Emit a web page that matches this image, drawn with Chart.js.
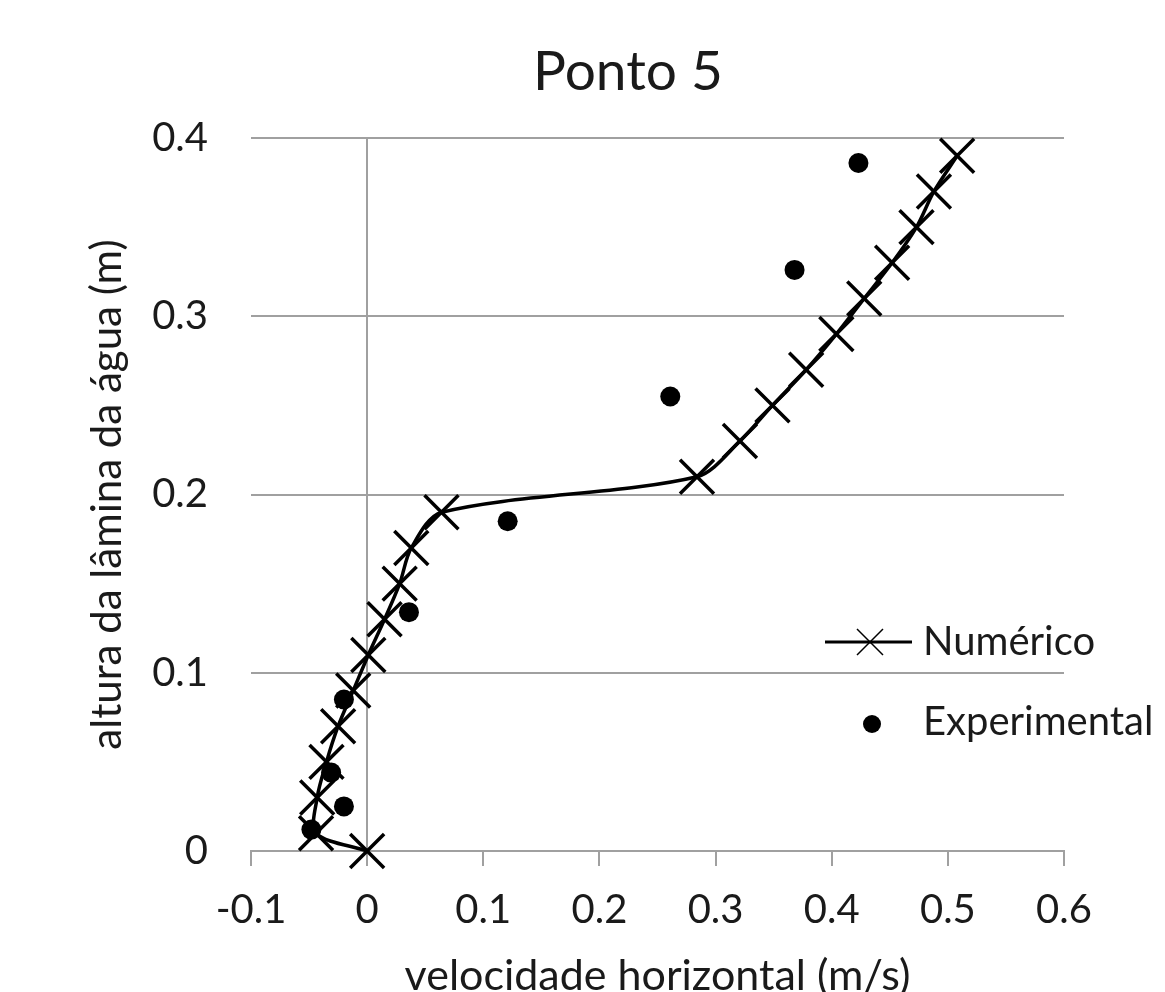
<!DOCTYPE html>
<html>
<head>
<meta charset="utf-8">
<script src="https://cdn.jsdelivr.net/npm/chart.js@4/dist/chart.umd.min.js"></script>
<style>
  html, body { margin: 0; padding: 0; background: #ffffff; }
  #wrap { width: 1165px; height: 992px; position: relative; }
</style>
</head>
<body>
<div id="wrap"><canvas id="c"></canvas></div>
<script>
// ---- data ----
const chartTitle = 'Ponto 5';
const xAxisTitle = 'velocidade horizontal (m/s)';
const yAxisTitle = 'altura da lâmina da água (m)';
const seriesNames = ['Numérico', 'Experimental'];

const numericoX = [0, -0.044, -0.043, -0.035, -0.025, -0.012, 0.001, 0.015, 0.028, 0.038, 0.064,
                   0.284, 0.321, 0.349, 0.378, 0.404, 0.428, 0.452, 0.473, 0.488, 0.508];
const numericoY = [0, 0.01, 0.03, 0.05, 0.07, 0.09, 0.11, 0.13, 0.15, 0.17, 0.19,
                   0.21, 0.23, 0.25, 0.27, 0.29, 0.31, 0.33, 0.35, 0.37, 0.39];

const experimentalX = [-0.048, -0.020, -0.031, -0.020, 0.036, 0.121, 0.261, 0.368, 0.423];
const experimentalY = [0.012, 0.025, 0.044, 0.085, 0.134, 0.185, 0.255, 0.326, 0.386];

const xTicks = [-0.1, 0, 0.1, 0.2, 0.3, 0.4, 0.5, 0.6];
const yTicks = [0, 0.1, 0.2, 0.3, 0.4];

// ---- build ----
const toPts = (xs, ys) => xs.map((x, i) => ({ x: x, y: ys[i] }));
const FONT = 'Lato';
const TXT = '#1a1a1a';
const GRID = '#a0a0a0';
const fmt = v => String(Math.round(v * 10) / 10);

// widen the y scale box back to the canvas edge after layout (so its labels are not clipped)
const yBoxPlugin = {
  id: 'yBox',
  afterLayout(chart) {
    const y = chart.scales.y;
    y.left = 0;
    y.width = y.right - y.left;
  }
};

const legendPlugin = {
  id: 'manualLegend',
  afterDraw(chart) {
    const ctx = chart.ctx;
    ctx.save();
    const y1 = 642, y2 = 724;
    ctx.strokeStyle = '#000';
    ctx.lineWidth = 3;
    ctx.beginPath();
    ctx.moveTo(825, y1); ctx.lineTo(912, y1);
    ctx.stroke();
    ctx.lineWidth = 1.5;
    const cx = 870, h = 13;
    ctx.beginPath();
    ctx.moveTo(cx - h, y1 - h); ctx.lineTo(cx + h, y1 + h);
    ctx.moveTo(cx + h, y1 - h); ctx.lineTo(cx - h, y1 + h);
    ctx.stroke();
    ctx.fillStyle = '#000';
    ctx.beginPath();
    ctx.arc(872, y2, 9, 0, Math.PI * 2);
    ctx.fill();
    ctx.fillStyle = TXT;
    ctx.font = '40px ' + FONT;
    ctx.textBaseline = 'middle';
    ctx.textAlign = 'left';
    ctx.fillText(seriesNames[0], 923, y1);
    ctx.fillText(seriesNames[1], 923, y2 - 2);
    ctx.restore();
  }
};

new Chart(document.getElementById('c'), {
  type: 'scatter',
  data: {
    datasets: [
      {
        label: seriesNames[1],
        data: toPts(experimentalX, experimentalY),
        showLine: false,
        pointStyle: 'circle',
        pointRadius: 10,
        pointBackgroundColor: '#000',
        pointBorderWidth: 0,
        clip: false,
        order: 0
      },
      {
        label: seriesNames[0],
        data: toPts(numericoX, numericoY),
        showLine: true,
        borderColor: '#000',
        borderWidth: 3.5,
        tension: 0.3,
        pointStyle: 'crossRot',
        pointRadius: 24,
        pointBorderWidth: 3.5,
        pointBorderColor: '#000',
        pointBackgroundColor: 'rgba(0,0,0,0)',
        clip: false,
        order: 1
      }
    ]
  },
  options: {
    responsive: true,
    maintainAspectRatio: false,
    animation: false,
    events: [],
    layout: { padding: { left: 192, right: 101, top: 0, bottom: 0 } },
    plugins: {
      legend: { display: false },
      tooltip: { enabled: false },
      title: {
        display: true,
        text: chartTitle,
        color: TXT,
        font: { family: FONT, size: 55, weight: 'normal', lineHeight: 1.2 },
        padding: { top: 39, bottom: 33 }
      }
    },
    scales: {
      x: {
        type: 'linear',
        min: -0.1,
        max: 0.6,
        afterBuildTicks: s => { s.ticks = xTicks.map(v => ({ value: v })); },
        afterFit: s => { s.height = 141; },
        ticks: {
          color: TXT,
          font: { family: FONT, size: 40 },
          padding: 20,
          maxRotation: 0,
          autoSkip: false,
          callback: v => fmt(v)
        },
        grid: {
          color: c => (c.tick && Math.abs(c.tick.value) < 1e-9) ? GRID : 'rgba(0,0,0,0)',
          tickColor: GRID,
          lineWidth: 2,
          drawTicks: true,
          tickLength: 15
        },
        border: { display: true, color: GRID, width: 2 },
        title: {
          display: true,
          text: xAxisTitle,
          color: TXT,
          font: { family: FONT, size: 43, lineHeight: 1.2 },
          padding: { top: 0, bottom: -10 }
        }
      },
      y: {
        type: 'linear',
        min: 0,
        max: 0.4,
        afterBuildTicks: s => { s.ticks = yTicks.map(v => ({ value: v })); },
        afterFit: s => { s.width = 59; },
        ticks: {
          color: TXT,
          font: { family: FONT, size: 40 },
          padding: 43,
          autoSkip: false,
          callback: v => fmt(v)
        },
        grid: {
          color: GRID,
          lineWidth: 2,
          drawTicks: false
        },
        border: { display: false },
        title: {
          display: true,
          text: yAxisTitle,
          color: TXT,
          font: { family: FONT, size: 42, lineHeight: 1.2 },
          padding: { top: 82, bottom: 0 }
        }
      }
    }
  },
  plugins: [yBoxPlugin, legendPlugin]
});
</script>
</body>
</html>
